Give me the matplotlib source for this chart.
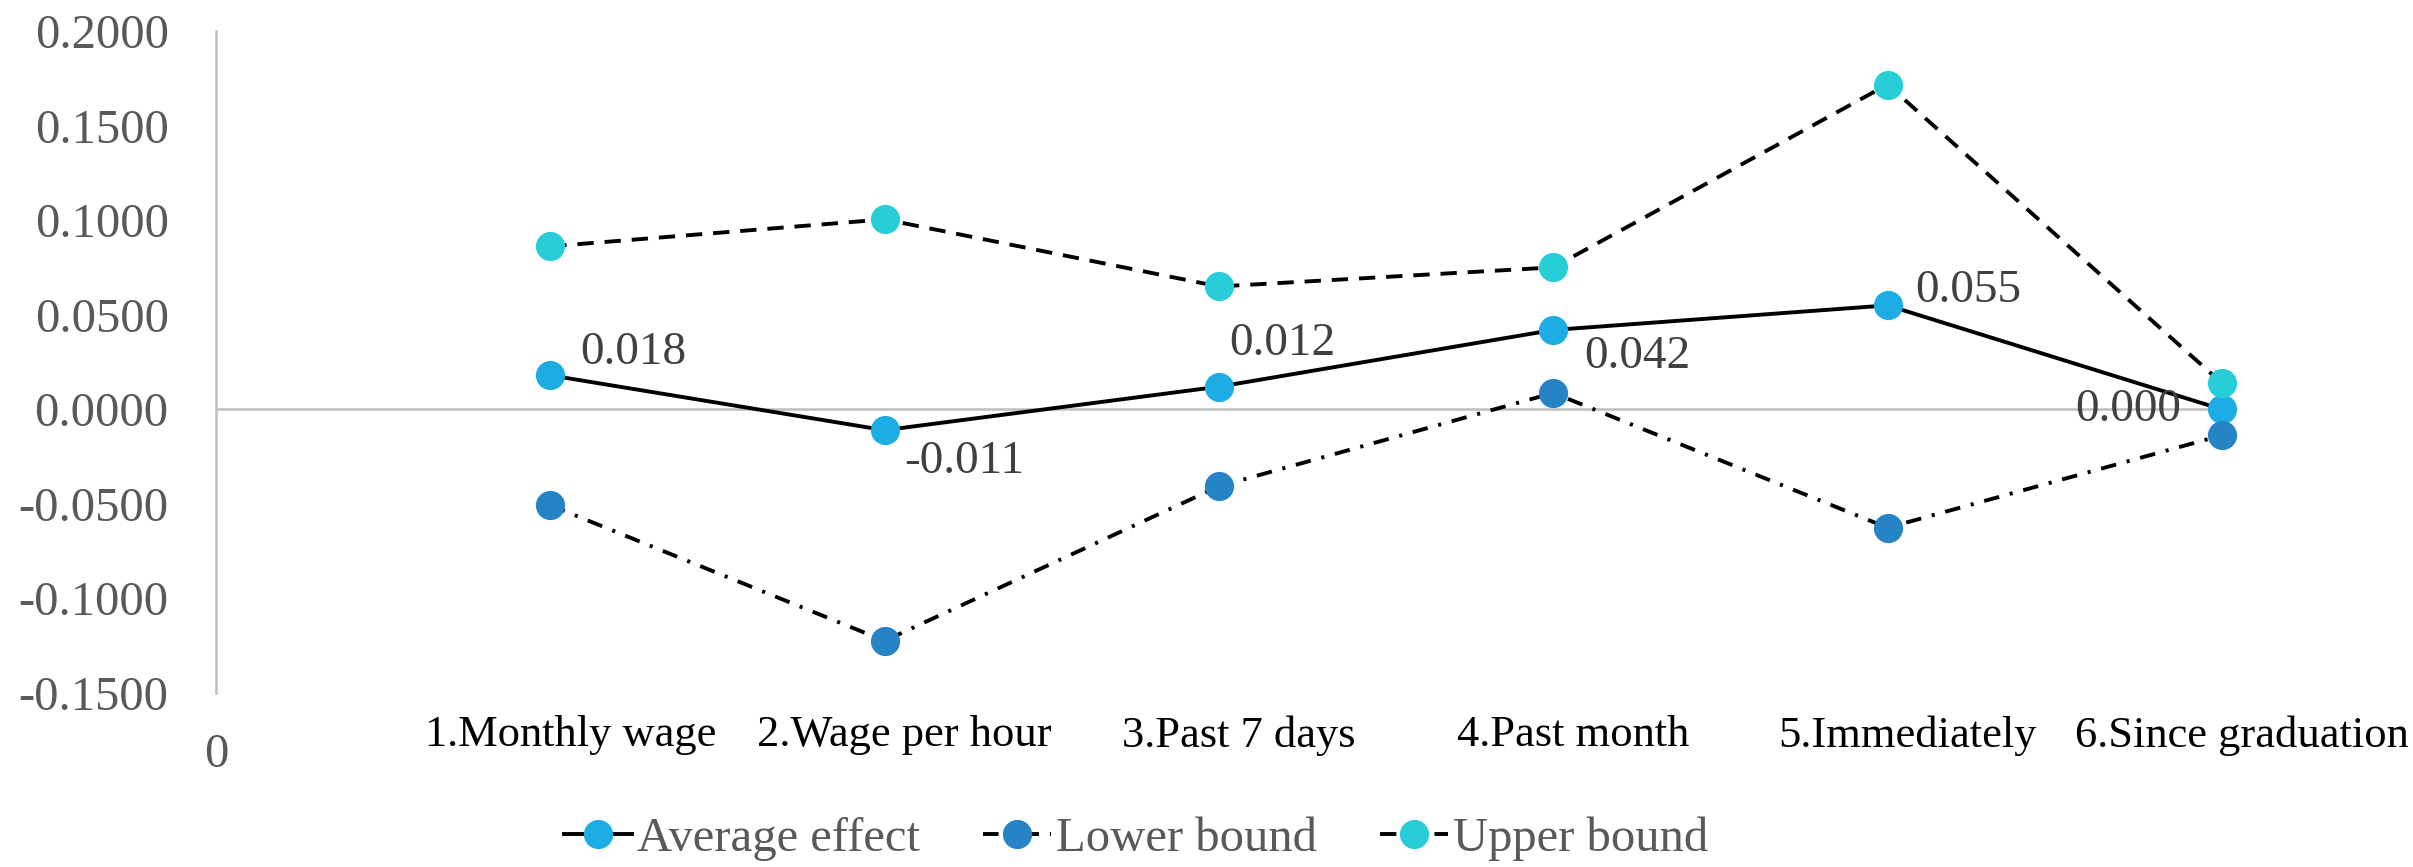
import numpy as np
import matplotlib
matplotlib.use("Agg")
import matplotlib.pyplot as plt
import matplotlib.transforms as mtransforms

plt.rcParams['font.family'] = ['Liberation Serif', 'DejaVu Serif']

categories = ["1.Monthly wage", "2.Wage per hour", "3.Past 7 days",
              "4.Past month", "5.Immediately", "6.Since graduation"]
average_effect = [0.018, -0.011, 0.012, 0.042, 0.055, 0.000]
lower_bound = [-0.0507, -0.1224, -0.0407, 0.0087, -0.0626, -0.0137]
upper_bound = [0.0862, 0.1005, 0.0650, 0.0751, 0.1718, 0.0139]
yticks = [-0.15, -0.10, -0.05, 0.0, 0.05, 0.10, 0.15, 0.20]

# label offsets in pixels (dx, dy, ha)
label_offsets = [(30, 23, 'left'), (20, -32, 'left'), (10, 43, 'left'),
                 (31, -27, 'left'), (28, 15, 'left'), (-41, 0, 'right')]

c_avg = "#1CADE4"
c_low = "#2683C6"
c_up = "#27CED7"

fig = plt.figure(figsize=(24.13, 8.67), dpi=100)
ax = fig.add_axes([0.0895, 0.2007, 0.8313, 0.7633])

x = np.arange(1, len(categories) + 1)
lw = 2.8
ax.plot(x, average_effect, color="black", lw=lw, ls="-", marker="o", ms=20,
        mfc=c_avg, mec=c_avg, label="Average effect", clip_on=False, zorder=3)
l_low, = ax.plot(x, lower_bound, color="black", lw=lw, marker="o", ms=20,
                 mfc=c_low, mec=c_low, label="Lower bound", clip_on=False, zorder=3)
l_low.set_dashes([4, 2.8, 0.8, 2.8])
l_up, = ax.plot(x, upper_bound, color="black", lw=lw, marker="o", ms=20,
                mfc=c_up, mec=c_up, label="Upper bound", clip_on=False, zorder=3)
l_up.set_dashes([4.2, 2.8])

for xi, v, (dx, dy, ha) in zip(x, average_effect, label_offsets):
    ax.annotate("%.3f" % v, (xi, v), xytext=(dx, dy), textcoords="offset pixels",
                ha=ha, va="center", fontsize=34, color="#404040", zorder=4)

ax.axhline(0, color="#BFBFBF", lw=1.8, zorder=1)
ax.set_xlim(0, 6)
ax.set_ylim(-0.15, 0.2)
ax.set_yticks(yticks)
ax.set_yticklabels(["%.4f" % t for t in yticks], fontsize=35, color="#595959")
ax.tick_params(axis="y", length=0, pad=34)

ax.set_xticks(x)
ax.set_xticklabels(categories, fontsize=32, color="black")
ax.tick_params(axis="x", length=0, pad=16)
shift = mtransforms.ScaledTranslation(0.2, 0, fig.dpi_scale_trans)
for lab in ax.get_xticklabels():
    lab.set_transform(lab.get_transform() + shift)

ax.text(0, -0.093, "0", transform=mtransforms.blended_transform_factory(ax.transData, ax.transAxes),
        ha="center", va="center", fontsize=35, color="#595959")

for s in ["top", "right", "bottom"]:
    ax.spines[s].set_visible(False)
ax.spines["left"].set_color("#BFBFBF")
ax.spines["left"].set_linewidth(1.8)

leg = fig.legend(loc="center", bbox_to_anchor=(1136 / 2413, 1 - 839 / 867), ncol=3,
                 frameon=False, fontsize=35, handlelength=1.4, handletextpad=0.1,
                 columnspacing=1.3, labelcolor="#595959")

fig.savefig("out.png", dpi=100)
